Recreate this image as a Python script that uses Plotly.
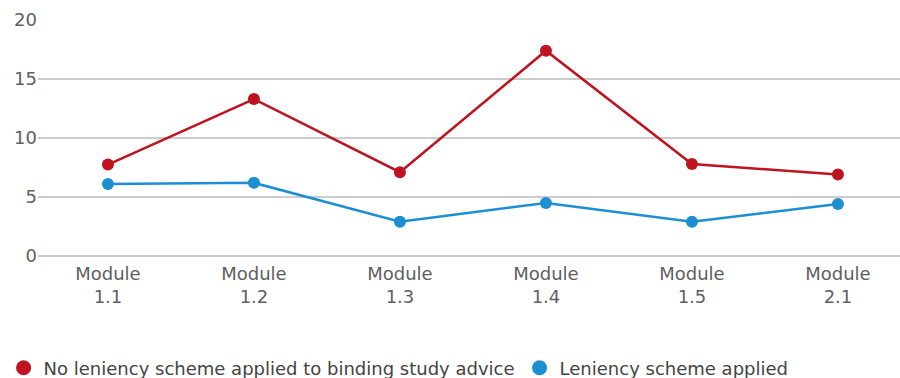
import plotly.graph_objects as go

modules = ["Module<br>1.1", "Module<br>1.2", "Module<br>1.3", "Module<br>1.4", "Module<br>1.5", "Module<br>2.1"]
no_leniency = [7.75, 13.3, 7.1, 17.4, 7.8, 6.9]
leniency = [6.1, 6.2, 2.9, 4.5, 2.9, 4.4]
series_names = ["No leniency scheme applied to binding study advice", "Leniency scheme applied"]

RED = "#bf1420"
BLUE = "#1b8fd2"
TEXT = "#606060"
GRID = "#cccccc"

xpos = list(range(len(modules)))

fig = go.Figure()
for name, vals, col in [(series_names[0], no_leniency, RED), (series_names[1], leniency, BLUE)]:
    fig.add_trace(go.Scatter(
        x=xpos, y=vals, mode="lines+markers", name=name,
        line=dict(color=col, width=2.5),
        marker=dict(color=col, size=12),
        showlegend=False,
    ))
    # legend entry drawn as a plain dot
    fig.add_trace(go.Scatter(
        x=[None], y=[None], mode="markers", name=name,
        marker=dict(color=col, size=15),
    ))

fig.update_layout(
    width=900, height=378,
    margin=dict(l=38, r=0, t=20, b=122),
    paper_bgcolor="white", plot_bgcolor="white",
    font=dict(family="DejaVu Sans", size=18, color=TEXT),
    xaxis=dict(
        range=[-0.479, 5.425],
        tickmode="array", tickvals=xpos, ticktext=modules,
        showgrid=False, zeroline=False, showline=False,
        ticks="", ticklabelstandoff=5, tickfont=dict(size=18, color=TEXT),
    ),
    yaxis=dict(
        range=[0, 20], tickvals=[0, 5, 10, 15, 20],
        showgrid=True, gridcolor=GRID, gridwidth=1.5,
        zeroline=True, zerolinecolor=GRID, zerolinewidth=1.5,
        showline=False, ticks="",
        tickfont=dict(size=18, color=TEXT),
    ),
    legend=dict(
        orientation="h", xref="container", yref="container",
        x=0.004, xanchor="left", y=1 - 368 / 378, yanchor="middle",
        font=dict(family="DejaVu Sans", size=18, color="#444444"),
        bgcolor="rgba(0,0,0,0)",
    ),
)

fig.write_html("out.html")
